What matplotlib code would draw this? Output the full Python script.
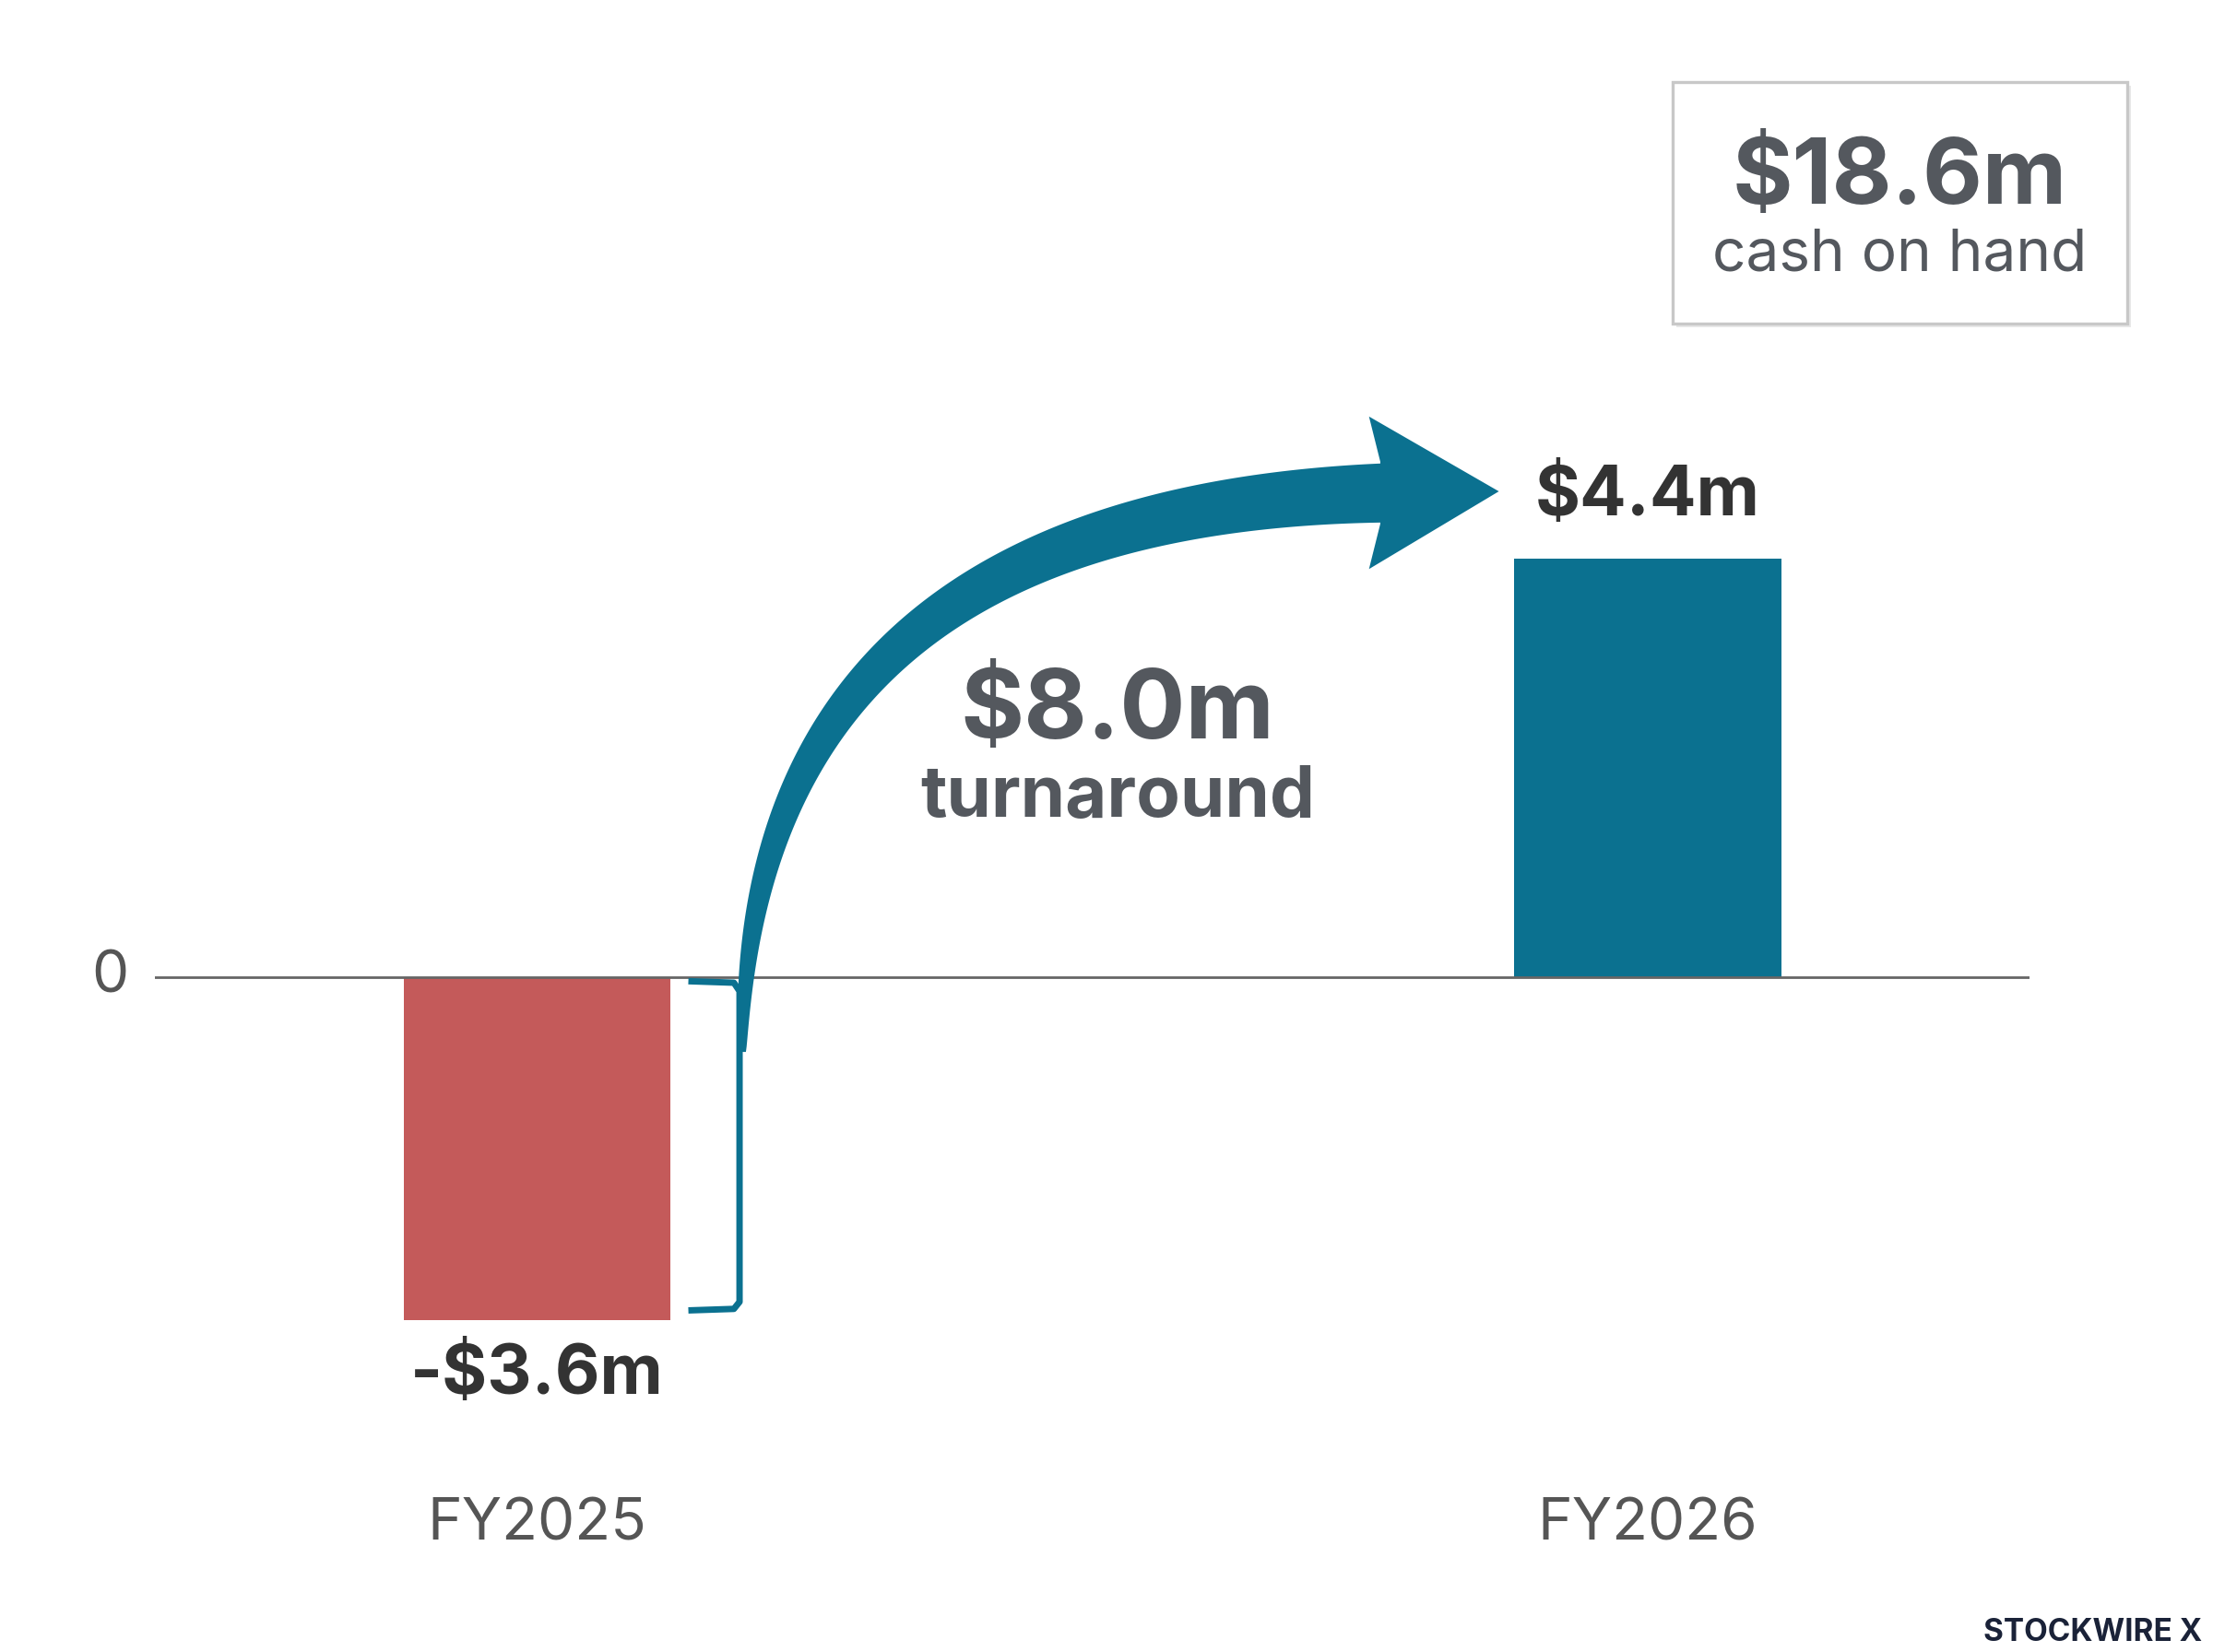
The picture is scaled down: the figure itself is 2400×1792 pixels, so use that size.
import matplotlib
matplotlib.use("Agg")
import matplotlib.pyplot as plt
import numpy as np
from matplotlib.patches import Polygon, FancyBboxPatch

plt.rcParams["font.family"] = ["Inter", "DejaVu Sans"]

# data
categories = ["FY2025", "FY2026"]
values = [-3.6, 4.4]
value_labels = ["-$3.6m", "$4.4m"]
bar_colors = ["#c45a5a", "#0b7190"]
turnaround_label = "$8.0m"
cash_label = "$18.6m"

W, H = 1568.0, 1170.0  # layout grid (reference pixels)


def fx(x):
    return x / W


def fy(y):
    return 1 - y / H


fig = plt.figure(figsize=(12, 8.96), dpi=200)
fig.patch.set_facecolor("white")

# axes: x spans zero-line extent, y spans whole figure
ax = fig.add_axes([fx(110), 0, fx(1438) - fx(110), 1])
ppu = 67.4
ax.set_ylim(-(H - 692) / ppu, 692 / ppu)
ax.set_xlim((110 - 380.5) / 787, (1438 - 380.5) / 787)
ax.axis("off")

x = np.arange(len(categories))
ax.bar(x, values, width=189 / 787, color=bar_colors, zorder=2)
ax.axhline(0, color="#666666", lw=1.0, zorder=3)

ax.text(x[0], values[0] - 0.25, value_labels[0], ha="center", va="top",
        fontsize=27, fontweight="bold", color="#333333")
ax.text(x[1], values[1] + 0.3, value_labels[1], ha="center", va="bottom",
        fontsize=27, fontweight="bold", color="#333333")
for xi, c in zip(x, categories):
    ax.text(xi, -(1080 - 692) / ppu, c, ha="center", va="center",
            fontsize=23, color="#555555")
fig.text(fx(78), fy(692), "0", ha="center", va="center", fontsize=23, color="#555555")

# bracket
bx = [fx(490), fx(520), fx(524), fx(524), fx(520), fx(490)]
by = [fy(695), fy(696), fy(702), fy(922), fy(927), fy(928)]
fig.add_artist(plt.Line2D(bx, by, color="#0b7190", lw=2.5, transform=fig.transFigure))

# curved arrow shaft
t = np.linspace(0, 1, 200)
P0, P1, P2 = np.array([526, 745]), np.array([530, 360]), np.array([985, 349])
c = ((1 - t) ** 2)[:, None] * P0 + (2 * (1 - t) * t)[:, None] * P1 + (t ** 2)[:, None] * P2
d = (2 * (1 - t))[:, None] * (P1 - P0) + (2 * t)[:, None] * (P2 - P1)
n = np.stack([-d[:, 1], d[:, 0]], axis=1)
n /= np.linalg.norm(n, axis=1)[:, None]
w = 2.5 + 18.5 * t ** 0.7
left = c + n * w[:, None]
right = c - n * w[:, None]
pts = np.vstack([left, right[::-1]])
pts_f = np.column_stack([fx(pts[:, 0]), fy(pts[:, 1])])
fig.add_artist(Polygon(pts_f, closed=True, color="#0b7190", transform=fig.transFigure, lw=0))
head = np.array([[978, 327], [970, 295], [1062, 348], [970, 403], [978, 371]])
fig.add_artist(Polygon(np.column_stack([fx(head[:, 0]), fy(head[:, 1])]), closed=True,
                       color="#0b7190", transform=fig.transFigure, lw=0))

fig.text(fx(792), fy(505), turnaround_label, ha="center", va="center",
         fontsize=38, fontweight="bold", color="#54585e")
fig.text(fx(792), fy(565), "turnaround", ha="center", va="center",
         fontsize=28, fontweight="bold", color="#54585e")

# cash box
shadow = FancyBboxPatch((fx(1188), fy(232)), fx(322), fy(58) - fy(229),
                        boxstyle="square,pad=0", fc="#e8e8e8", ec="none",
                        transform=fig.transFigure)
fig.add_artist(shadow)
box = FancyBboxPatch((fx(1185), fy(229)), fx(322), fy(58) - fy(229),
                     boxstyle="square,pad=0", fc="white", ec="#c8c8c8", lw=1.2,
                     transform=fig.transFigure)
fig.add_artist(box)
fig.text(fx(1346), fy(127), cash_label, ha="center", va="center",
         fontsize=36, fontweight="bold", color="#54585e")
fig.text(fx(1346), fy(181), "cash on hand", ha="center", va="center",
         fontsize=23, color="#54585e")

fig.text(fx(1560), fy(1156), "STOCKWIRE X", ha="right", va="center",
         fontsize=12, fontweight="bold", color="#1a2238")

fig.savefig("out.png", dpi=200, facecolor="white")
